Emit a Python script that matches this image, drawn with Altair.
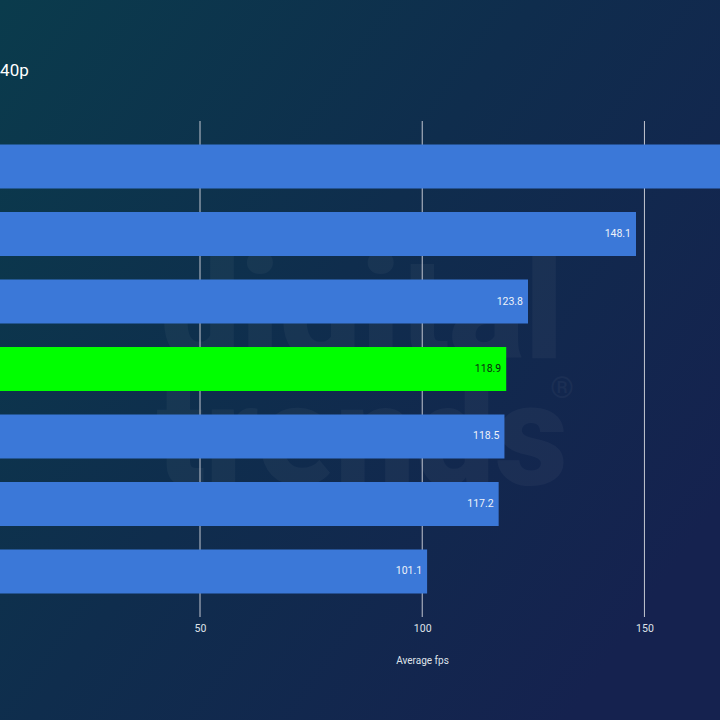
import altair as alt
import pandas as pd

# Average frame rates at 1440p, highest first
gpus = ["RTX 4090", "RTX 4080", "RX 7900 XTX", "RTX 4070 Ti Super",
        "RX 7900 XT", "RTX 4070 Ti", "RX 7800 XT"]
fps = [176.5, 148.1, 123.8, 118.9, 118.5, 117.2, 101.1]
highlight = [False, False, False, True, False, False, False]
tick_values = [50, 100, 150]
title_text = "1440p"
x_title = "Average fps"

W, H = 720, 496
TOP, BOTTOM = 121, 103

df = pd.DataFrame({"gpu": gpus, "fps": fps, "hl": highlight})
ticks_df = pd.DataFrame({"tick": tick_values})
one = pd.DataFrame({"k": [0]})

x_scale = alt.Scale(domain=[5, 167], nice=False, zero=False)
y_enc = alt.Y("gpu:N", sort=gpus, axis=None,
              scale=alt.Scale(paddingInner=0.35, paddingOuter=0.35))
x_axis = alt.Axis(values=tick_values, grid=False, ticks=False, domain=False,
                  labelColor="#dfe3ea", labelFontSize=10.5, labelFont="Roboto",
                  labelPadding=6, titleColor="#dfe3ea", titleFontSize=10,
                  titleFont="Roboto", titleFontWeight="normal",
                  titleX=422, titleY=43, titleAlign="center", titleBaseline="middle",
                  zindex=1)

# full-canvas gradient backdrop
backdrop = alt.Chart(one).mark_rect(
    fill=alt.LinearGradient(
        gradient="linear",
        stops=[alt.GradientStop(color="#0a3b4c", offset=0),
               alt.GradientStop(color="#0f2d4d", offset=0.5),
               alt.GradientStop(color="#15224f", offset=1)],
        x1=0, y1=0, x2=1, y2=0.7),
    clip=False,
).encode(x=alt.value(0), x2=alt.value(W), y=alt.value(-TOP), y2=alt.value(H + BOTTOM))

# faint brand watermark behind the bars
wm_df = pd.DataFrame({"t": ["digital", "trends"], "yy": [237, 364]})
watermark = alt.Chart(wm_df).mark_text(
    font="Roboto", fontWeight=900, fontSize=142, color="white", opacity=0.035,
    align="center", baseline="alphabetic", clip=False,
).encode(x=alt.value(362), y=alt.Y("yy:Q", scale=None), text="t:N")

reg = alt.Chart(one).mark_text(
    font="Roboto", fontSize=30, color="white", opacity=0.035, align="center",
    baseline="middle", clip=False,
).encode(x=alt.value(562), y=alt.value(268), text=alt.value("®"))

grid = alt.Chart(ticks_df).mark_rule(color="#c3c7d1", strokeWidth=1).encode(
    x=alt.X("tick:Q", scale=x_scale, title=x_title, axis=x_axis),
    y=alt.value(0), y2=alt.value(H),
)

bars = alt.Chart(df).mark_bar(clip=True).encode(
    x=alt.X("fps:Q", scale=x_scale, title=x_title, axis=x_axis),
    x2=alt.X2(datum=0),
    y=y_enc,
    color=alt.condition("datum.hl", alt.value("#00ff00"), alt.value("#3b78d8")),
)

labels = alt.Chart(df).mark_text(
    align="right", baseline="middle", dx=-5, font="Roboto", fontSize=10.5, clip=True,
).encode(
    x=alt.X("fps:Q", scale=x_scale, title=x_title, axis=x_axis),
    y=y_enc,
    text=alt.Text("fps:Q", format=".1f"),
    color=alt.condition("datum.hl", alt.value("#0d1f10"), alt.value("#eef2f8")),
)

title = alt.Chart(one).mark_text(
    font="Roboto", fontSize=17, color="white", align="left", baseline="alphabetic",
    clip=False,
).encode(x=alt.value(-19), y=alt.value(76 - TOP), text=alt.value(title_text))

chart = alt.layer(backdrop, watermark, reg, grid, bars, labels, title).properties(
    width=W, height=H,
    autosize=alt.AutoSizeParams(type="none"),
    padding={"left": 0, "top": TOP, "right": 0, "bottom": BOTTOM},
    background="#0f2b4d",
).configure_view(stroke=None)

chart.save("out.html", embed_options={"renderer": "svg", "actions": False})
